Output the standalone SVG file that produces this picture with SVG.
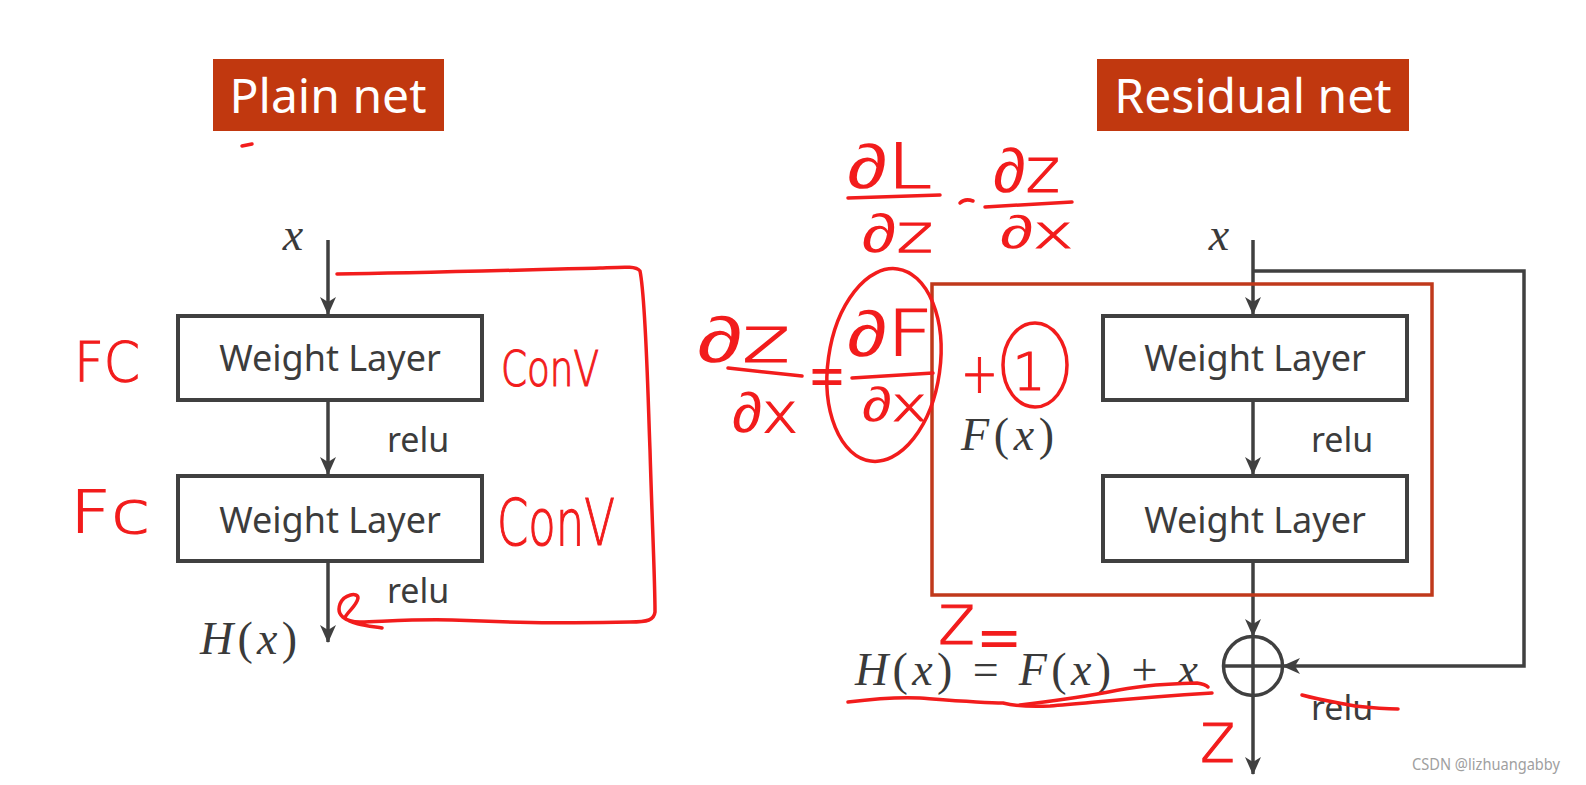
<svg xmlns="http://www.w3.org/2000/svg" width="1586" height="785" viewBox="0 0 1586 785">
<style>
.box{fill:#fff;stroke:#404040;stroke-width:4}
.lbl{font-family:"Noto Sans","Open Sans","DejaVu Sans",sans-serif;font-size:36px;fill:#3c3c3c;text-anchor:middle}
.relu{font-family:"Noto Sans","Open Sans","DejaVu Sans",sans-serif;font-size:34px;fill:#3c3c3c}
.title{font-family:"Noto Sans","Open Sans","DejaVu Sans",sans-serif;font-size:48px;fill:#fff;text-anchor:middle}
.math{font-family:"Liberation Serif","DejaVu Serif",serif;font-size:46px;fill:#3a3a3a}
.mi{font-style:italic}
.conn{fill:none;stroke:#404040;stroke-width:3.5}
.ink{fill:none;stroke:#f21c1c;stroke-width:3.5;stroke-linecap:round;stroke-linejoin:round}
.hw{font-family:"DejaVu Sans","Liberation Sans",sans-serif;font-weight:200;fill:#f21c1c;stroke:#f21c1c;stroke-width:1.2}
.d{stroke:none;font-weight:normal;font-family:"Liberation Sans","DejaVu Sans",sans-serif}
</style>
<defs>
<marker id="ah" viewBox="0 0 18 16" refX="17" refY="8" markerWidth="18" markerHeight="16" orient="auto" markerUnits="userSpaceOnUse">
<path d="M0,0 L18,8 L0,16 L5,8 z" fill="#404040"/>
</marker>
</defs>
<rect width="1586" height="785" fill="#fff"/>

<g id="title-plain"><rect x="213" y="59" width="231" height="72" fill="#c1380f"/><text class="title" x="328" y="113">Plain net</text></g>
<g id="title-residual"><rect x="1097" y="59" width="312" height="72" fill="#c1380f"/><text class="title" x="1253" y="113">Residual net</text></g>

<g id="connectors">
<path class="conn" d="M328 240 V314" marker-end="url(#ah)"/>
<path class="conn" d="M328 400 V474" marker-end="url(#ah)"/>
<path class="conn" d="M328 561 V642" marker-end="url(#ah)"/>
<path class="conn" d="M1253 240 V314" marker-end="url(#ah)"/>
<path class="conn" d="M1253 400 V474" marker-end="url(#ah)"/>
<path class="conn" d="M1253 561 V636" marker-end="url(#ah)"/>
<path class="conn" d="M1253 695 V774" marker-end="url(#ah)"/>
<path class="conn" d="M1253 271 H1524 V666 H1283" marker-end="url(#ah)"/>
</g>

<g id="plain-x"><text class="math mi" x="293" y="250" text-anchor="middle">x</text></g>
<g id="plain-layer1"><rect class="box" x="178" y="316" width="304" height="84"/><text class="lbl" x="330" y="371">Weight Layer</text></g>
<g id="plain-relu1"><text class="relu" x="387" y="452">relu</text></g>
<g id="plain-layer2"><rect class="box" x="178" y="476" width="304" height="85"/><text class="lbl" x="330" y="533">Weight Layer</text></g>
<g id="plain-relu2"><text class="relu" x="387" y="603">relu</text></g>
<g id="plain-out"><text class="math" x="200" y="654" textLength="97" lengthAdjust="spacing"><tspan class="mi">H</tspan>(<tspan class="mi">x</tspan>)</text></g>

<g id="residual-block"><rect x="932" y="284" width="500" height="311" fill="none" stroke="#c0391b" stroke-width="3.5"/></g>
<g id="res-x"><text class="math mi" x="1219" y="250" text-anchor="middle">x</text></g>
<g id="res-layer1"><rect class="box" x="1103" y="316" width="304" height="84"/><text class="lbl" x="1255" y="371">Weight Layer</text></g>
<g id="res-relu1"><text class="relu" x="1311" y="452">relu</text></g>
<g id="res-layer2"><rect class="box" x="1103" y="476" width="304" height="85"/><text class="lbl" x="1255" y="533">Weight Layer</text></g>
<g id="res-fx"><text class="math" x="961" y="450" textLength="93" lengthAdjust="spacing"><tspan class="mi">F</tspan>(<tspan class="mi">x</tspan>)</text></g>
<g id="res-sum"><circle cx="1253" cy="666" r="29.5" fill="#fff" stroke="#404040" stroke-width="3.5"/><path d="M1223.5 666 H1282.5 M1253 636.5 V695.5" stroke="#404040" stroke-width="3.5"/></g>
<g id="res-eq"><text class="math" x="855" y="685" textLength="343" lengthAdjust="spacing"><tspan class="mi">H</tspan>(<tspan class="mi">x</tspan>) = <tspan class="mi">F</tspan>(<tspan class="mi">x</tspan>) + <tspan class="mi">x</tspan></text></g>
<g id="res-relu2"><text class="relu" x="1311" y="720">relu</text></g>
<g id="watermark"><text x="1412" y="770" font-family="'Noto Sans','DejaVu Sans',sans-serif" font-size="17" fill="#a0a0a0" textLength="148" lengthAdjust="spacingAndGlyphs">CSDN @lizhuangabby</text></g>

<g id="annotations">
<path class="ink" d="M242 146 L252 144"/>
<path class="ink" d="M337 274 C420 273 520 270 600 268 C625 267 636 266 640 271 C646 300 648 400 650 450 C652 520 655 580 655 612 C654 620 648 622 630 622 C560 624 500 622 452 620 C420 619 390 621 360 622 C345 622 336 615 340 604 C344 594 358 592 358 598 C357 606 345 614 345 618 C350 624 370 626 382 628"/>
<text class="hw" x="74" y="381" font-size="56" textLength="66" lengthAdjust="spacingAndGlyphs">FC</text>
<text class="hw" x="501" y="386" font-size="50" textLength="98" lengthAdjust="spacingAndGlyphs">ConV</text>
<text class="hw" x="70" y="533" font-size="58" textLength="80" lengthAdjust="spacingAndGlyphs">Fc</text>
<text class="hw" x="497" y="545" font-size="64" textLength="118" lengthAdjust="spacingAndGlyphs">ConV</text>

<text class="hw" x="847" y="188" font-size="62" textLength="85" lengthAdjust="spacingAndGlyphs"><tspan class="d">∂</tspan>L</text>
<path class="ink" d="M848 198 L940 195"/>
<text class="hw" x="862" y="252" font-size="54" textLength="71" lengthAdjust="spacingAndGlyphs"><tspan class="d">∂</tspan>z</text>
<path class="ink" d="M960 203 Q965 198 973 201"/>
<text class="hw" x="993" y="192" font-size="62" textLength="67" lengthAdjust="spacingAndGlyphs"><tspan class="d">∂</tspan>z</text>
<path class="ink" d="M985 207 L1072 202"/>
<text class="hw" x="1000" y="248" font-size="46" textLength="73" lengthAdjust="spacingAndGlyphs"><tspan class="d">∂</tspan>x</text>

<text class="hw" x="697" y="362" font-size="64" textLength="93" lengthAdjust="spacingAndGlyphs"><tspan class="d">∂</tspan>z</text>
<path class="ink" d="M728 368 L802 376"/>
<text class="hw" x="732" y="432" font-size="56" textLength="66" lengthAdjust="spacingAndGlyphs"><tspan class="d">∂</tspan>x</text>
<text class="hw" transform="translate(827,399) scale(1,1.6)" font-size="44" text-anchor="middle">=</text>
<ellipse class="ink" cx="884" cy="365" rx="56" ry="97" transform="rotate(8 884 365)"/>
<text class="hw" x="847" y="356" font-size="64" textLength="86" lengthAdjust="spacingAndGlyphs"><tspan class="d">∂</tspan>F</text>
<path class="ink" d="M852 378 L933 373"/>
<text class="hw" x="862" y="421" font-size="48" textLength="65" lengthAdjust="spacingAndGlyphs"><tspan class="d">∂</tspan>x</text>
<text class="hw" x="961" y="392" font-size="56" textLength="37" lengthAdjust="spacingAndGlyphs">+</text>
<ellipse class="ink" cx="1035" cy="365" rx="32" ry="42"/>
<text class="hw" x="1029" y="390" font-size="52" text-anchor="middle" font-family="'Liberation Sans',sans-serif">1</text>

<text class="hw" x="938" y="644" font-size="72" textLength="37" lengthAdjust="spacingAndGlyphs">z</text>
<text class="hw" transform="translate(999,661) scale(1.2,1.6)" font-size="44" text-anchor="middle">=</text>
<path class="ink" d="M848 702 C880 698 900 697 920 698 C960 701 985 703 1003 703 C1015 706 1030 707 1050 706 C1090 703 1130 698 1212 693"/>
<path class="ink" d="M1020 705 C1060 700 1080 697 1103 693 C1130 688 1150 684 1197 683 C1203 684 1206 685 1208 687"/>
<text class="hw" x="1200" y="762" font-size="72" textLength="35" lengthAdjust="spacingAndGlyphs">z</text>
<path class="ink" d="M1302 695 C1320 700 1340 703 1355 706 C1373 708 1390 709 1398 709"/>
</g>
</svg>
